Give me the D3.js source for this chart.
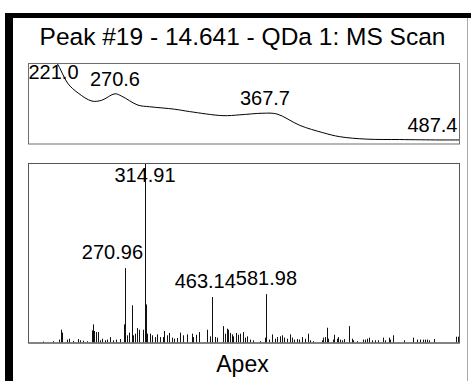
<!DOCTYPE html>
<html>
<head>
<meta charset="utf-8">
<script src="https://cdn.jsdelivr.net/npm/d3@7"></script>
<style>
  body { margin: 0; background: #fff; }
  svg text { font-family: "Liberation Sans", Arial, sans-serif; fill: #000; }
</style>
</head>
<body>
<div id="chart"></div>
<script>
// UV spectrum (wavelength nm, relative absorbance %)
const uvWavelength = [214, 221, 228, 233, 240, 246.7, 255.7, 262, 270.6, 275, 285.5, 293, 309, 319, 340.5, 351.5, 366.4, 375.5, 390.3, 405.2, 416.2, 433.7, 455, 481, 494];
const uvAbsorbance = [150, 128, 110, 100, 75, 63, 53, 54, 62, 59, 48, 46, 43, 40, 35, 36, 38, 37, 23, 14, 9, 6, 5.5, 5, 5];
const uvPeakLabels = ["221.0", "270.6", "367.7", "487.4"];

// MS scan (m/z, relative intensity %)
const msMz = [58.2, 91.2, 113.2, 126.4, 129.4, 133.0, 142.6, 147.7, 157.2, 168.2, 171.9, 179.2, 186.6, 197.6, 200.5, 202.7, 207.1, 210.8, 215.9, 219.6,
  226.9, 232.0, 237.9, 243.8, 251.1, 259.9, 268.7, 270.96, 274.6, 279.0, 285.6, 289.2, 292.9, 298.0, 302.4, 309.8, 314.91, 316.5, 320.0, 325.9,
  331.0, 336.9, 342.0, 347.9, 353.8, 357.4, 362.6, 368.4, 373.6, 378.7, 384.6, 391.9, 397.8, 408.0, 417.6, 421.2, 427.1, 434.4, 450.6, 457.9,
  463.14, 468.9, 474.0, 487.2, 491.6, 494.6, 498.2, 501.9, 505.6, 509.2, 515.1, 520.2, 523.9, 529.8, 534.9, 540.0, 545.9, 553.2, 567.9, 578.9,
  581.98, 588.4, 593.6, 600.9, 606.0, 611.9, 616.3, 620.7, 626.6, 633.9, 637.6, 642.7, 648.6, 654.4, 659.6, 666.9, 672.8, 677.9, 685.2, 703.6,
  707.2, 710.9, 714.6, 718.2, 727.8, 730.7, 736.6, 740.2, 743.9, 747.6, 753.4, 764.4, 769.6, 773.2, 782.0, 793.8, 798.9, 804.0, 808.4, 813.6,
  820.9, 828.2, 837.8, 842.9, 851.0, 853.9, 861.2, 885.4, 905.2, 912.6, 919.9, 925.8, 930.9, 936.0, 940.4, 950.7, 999.1, 1002.8];
const msIntensity = [1.9, 0.8, 1.0, 1.9, 7.4, 5.8, 1.9, 2.4, 1.2, 2.2, 1.5, 1.3, 1.0, 7.0, 10.4, 6.7, 6.1, 6.1, 1.5, 2.4,
  1.5, 1.9, 3.3, 1.5, 1.9, 2.2, 10.4, 41.7, 4.3, 5.8, 21.0, 4.3, 5.2, 8.3, 7.4, 7.4, 100, 21.5, 5.2, 5.2,
  4.3, 3.3, 4.8, 3.3, 3.3, 6.7, 4.3, 5.6, 3.0, 2.4, 2.8, 5.8, 4.3, 4.8, 5.2, 3.3, 4.6, 6.1, 7.4, 3.7,
  25.6, 3.3, 3.0, 9.4, 5.2, 8.0, 7.4, 5.6, 4.8, 3.7, 5.6, 4.6, 5.2, 6.1, 3.0, 3.7, 1.9, 1.5, 1.0, 3.0,
  27.2, 1.9, 4.8, 2.4, 3.3, 3.7, 4.3, 3.0, 2.4, 4.8, 3.0, 1.9, 2.2, 1.9, 3.3, 2.4, 5.2, 1.5, 1.0, 1.5,
  3.0, 3.3, 8.5, 2.4, 1.9, 4.6, 2.4, 3.3, 1.9, 1.5, 2.2, 9.4, 2.4, 1.5, 1.0, 1.9, 1.9, 2.4, 3.0, 1.5,
  1.5, 1.5, 3.0, 1.5, 3.0, 1.9, 4.3, 1.5, 3.0, 1.9, 1.9, 1.9, 1.9, 1.9, 1.5, 2.2, 3.5, 3.5];
const msPeakLabels = ["314.91", "270.96", "463.14", "581.98"];

const title = "Peak #19 - 14.641 - QDa 1: MS Scan";
const footer = "Apex";

const W = 471, H = 381;
const svg = d3.select("#chart").append("svg").attr("width", W).attr("height", H);

// outer frame
svg.append("rect").attr("x", 5).attr("y", 13).attr("width", W - 5).attr("height", 5).attr("fill", "#000");
svg.append("rect").attr("x", 5).attr("y", 13).attr("width", 8).attr("height", H - 13).attr("fill", "#000");
svg.append("line").attr("x1", 467.5).attr("x2", 467.5).attr("y1", 18).attr("y2", H).attr("stroke", "#aaa");

svg.append("text").attr("x", 242.5).attr("y", 45).attr("text-anchor", "middle")
  .attr("font-size", 24.5).text(title);

const left = 28.5, right = 459.5;

// ---- UV panel ----
const uvTop = 63.5, uvBottom = 144;
const xUv = d3.scaleLinear().domain([214.3, 494]).range([28, 460]);
const yUv = d3.scaleLinear().domain([0, 100]).range([144, 63]);

svg.append("clipPath").attr("id", "uvclip").append("rect")
  .attr("x", left).attr("y", uvTop).attr("width", right - left).attr("height", uvBottom - uvTop);

const uvData = uvWavelength.map((w, i) => ({ w: w, a: uvAbsorbance[i] }));
const uvLine = d3.line().x(d => xUv(d.w)).y(d => yUv(d.a)).curve(d3.curveCatmullRom.alpha(0.5));
svg.append("path").datum(uvData).attr("clip-path", "url(#uvclip)")
  .attr("d", uvLine).attr("fill", "none").attr("stroke", "#000").attr("stroke-width", 1);

svg.append("rect").attr("x", left).attr("y", uvTop).attr("width", right - left).attr("height", uvBottom - uvTop)
  .attr("fill", "none").attr("stroke", "#6e6e6e").attr("stroke-width", 1);

// interpolate absorbance at a wavelength for label height
function uvAt(w) {
  const i = d3.bisectLeft(uvWavelength, w);
  if (i <= 0) return uvAbsorbance[0];
  if (i >= uvWavelength.length) return uvAbsorbance[uvAbsorbance.length - 1];
  const t = (w - uvWavelength[i - 1]) / (uvWavelength[i] - uvWavelength[i - 1]);
  return uvAbsorbance[i - 1] + t * (uvAbsorbance[i] - uvAbsorbance[i - 1]);
}

uvPeakLabels.forEach(lbl => {
  const w = +lbl;
  const t = svg.append("text").attr("font-size", 20).text(lbl);
  const len = t.node().getComputedTextLength();
  let x0 = xUv(w) - len / 2;
  x0 = Math.max(left, Math.min(x0, right - 2 - len));
  const y = Math.max(yUv(uvAt(w)) - 8, uvTop + 15);
  t.attr("x", x0).attr("y", y);
});

// ---- MS panel ----
const msTop = 163.5, msBottom = 343;
const xMs = d3.scaleLinear().domain([57.6, 1007.6]).range([28, 460]);
const yMs = d3.scaleLinear().domain([0, 100]).range([msBottom, msTop]);

const msData = msMz.map((m, i) => ({ mz: m, v: msIntensity[i] }));
svg.append("g").selectAll("line").data(msData).enter().append("line")
  .attr("x1", d => Math.round(xMs(d.mz)) + 0.5).attr("x2", d => Math.round(xMs(d.mz)) + 0.5)
  .attr("y1", msBottom).attr("y2", d => yMs(d.v))
  .attr("stroke", "#111").attr("stroke-width", 1);

svg.append("rect").attr("x", left).attr("y", msTop).attr("width", right - left).attr("height", msBottom - msTop)
  .attr("fill", "none").attr("stroke", "#555").attr("stroke-width", 1);
svg.append("line").attr("x1", left).attr("x2", right).attr("y1", msBottom).attr("y2", msBottom)
  .attr("stroke", "#777").attr("stroke-width", 1.5);

// peak labels: tallest first, shift left to clear taller bars and earlier labels
const placed = [];
msPeakLabels.map(l => ({ l: l, mz: +l, v: msIntensity[msMz.indexOf(+l)] }))
  .sort((a, b) => b.v - a.v)
  .forEach(p => {
    const t = svg.append("text").attr("font-size", 20).text(p.l);
    const len = t.node().getComputedTextLength();
    const y = Math.max(yMs(p.v) - 9, msTop + 18);
    let x0 = xMs(p.mz) - len / 2;
    placed.forEach(q => {
      const qx = xMs(q.mz);
      if (q.v > p.v && qx > x0 && qx < x0 + len) x0 = qx - 2 - len;
    });
    placed.forEach(q => {
      if (Math.abs(q.y - y) < 16 && x0 < q.x1 && x0 + len > q.x0) x0 = q.x0 - len;
    });
    x0 = Math.max(left, x0);
    t.attr("x", x0).attr("y", y);
    placed.push({ mz: p.mz, v: p.v, x0: x0, x1: x0 + len, y: y });
  });

svg.append("text").attr("x", 242.5).attr("y", 372).attr("text-anchor", "middle")
  .attr("font-size", 23).text(footer);
</script>
</body>
</html>
